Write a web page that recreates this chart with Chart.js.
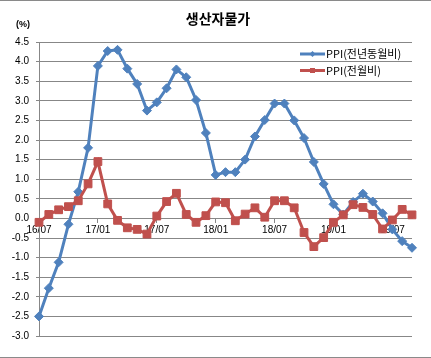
<!DOCTYPE html>
<html>
<head>
<meta charset="utf-8">
<script src="https://cdn.jsdelivr.net/npm/chart.js@4.4.1/dist/chart.umd.min.js"></script>
<style>
  html, body { margin: 0; padding: 0; background: #fff; }
  #wrap { position: relative; width: 431px; height: 358px; }
  #frame { position: absolute; left: 0; top: 0; width: 431px; height: 356px;
           border-top: 1px solid #8a8a8a; border-bottom: 1px solid #8a8a8a; pointer-events: none; }
</style>
</head>
<body>
<div id="wrap">
  <canvas id="ppiChart" width="431" height="358"></canvas>
  <div id="frame"></div>
</div>
<script>
// 생산자물가 (PPI) - monthly, 16/07 ~ 19/09

const titleText = '생산자물가';
const unitText = '(%)';

const months = [
    '16/07', '16/08', '16/09', '16/10', '16/11', '16/12',
    '17/01', '17/02', '17/03', '17/04', '17/05', '17/06',
    '17/07', '17/08', '17/09', '17/10', '17/11', '17/12',
    '18/01', '18/02', '18/03', '18/04', '18/05', '18/06',
    '18/07', '18/08', '18/09', '18/10', '18/11', '18/12',
    '19/01', '19/02', '19/03', '19/04', '19/05', '19/06',
    '19/07', '19/08', '19/09'
];

// 전년동월비 (year on year)
const ppiYoy = [
    -2.5, -1.78, -1.12, -0.15, 0.68, 1.8,
    3.89, 4.27, 4.3, 3.82, 3.43, 2.75,
    2.96, 3.32, 3.8, 3.6, 3.02, 2.18,
    1.11, 1.18, 1.18, 1.5, 2.09, 2.51,
    2.93, 2.93, 2.5, 2.05, 1.44, 0.88,
    0.36, 0.1, 0.42, 0.63, 0.43, 0.13,
    -0.28, -0.58, -0.75
];

// 전월비 (month on month)
const ppiMom = [
    -0.1, 0.1, 0.22, 0.3, 0.45, 0.88,
    1.45, 0.37, -0.05, -0.24, -0.28, -0.4,
    0.06, 0.43, 0.64, 0.1, -0.1, 0.07,
    0.42, 0.4, -0.06, 0.11, 0.27, 0.03,
    0.45, 0.45, 0.27, -0.36, -0.72, -0.49,
    -0.1, 0.09, 0.35, 0.28, 0.1, -0.27,
    -0.04, 0.23, 0.09
];

const seriesNames = ['PPI(전년동월비)', 'PPI(전월비)'];
const yTicks = { min: -3, max: 4.5, step: 0.5 };

const BLUE = '#4f81bd';
const RED = '#c0504d';
const GRID = '#878787';
const KR = '"Noto Sans CJK KR", "Noto Sans", sans-serif';
const NUM = '"Liberation Sans", Arial, sans-serif';

// title, unit label and the legend drawn over the canvas
const overlay = {
    id: 'overlay',
    afterDraw(chart) {
        const ctx = chart.ctx;
        ctx.save();
        ctx.fillStyle = '#000';
        ctx.textAlign = 'center';
        ctx.textBaseline = 'middle';
        ctx.font = 'bold 14px ' + KR;
        ctx.fillText(titleText, 218, 19);
        ctx.font = 'bold 9px ' + NUM;
        ctx.fillText(unitText, 23, 25);

        chart.data.datasets.forEach((ds, i) => {
            const y = 54 + i * 16.5;
            const x0 = 300, x1 = 325, xm = (x0 + x1) / 2;
            ctx.strokeStyle = ds.borderColor;
            ctx.lineWidth = 3;
            ctx.beginPath();
            ctx.moveTo(x0, y);
            ctx.lineTo(x1, y);
            ctx.stroke();
            ctx.fillStyle = ds.borderColor;
            ctx.beginPath();
            if (ds.pointStyle === 'rectRot') {
                ctx.moveTo(xm, y - 3);
                ctx.lineTo(xm + 3, y);
                ctx.lineTo(xm, y + 3);
                ctx.lineTo(xm - 3, y);
                ctx.closePath();
            } else {
                ctx.rect(xm - 2.5, y - 2.5, 5, 5);
            }
            ctx.fill();
            ctx.fillStyle = '#000';
            ctx.textAlign = 'left';
            ctx.font = '11px ' + KR;
            ctx.fillText(ds.label, 326, y);
        });
        ctx.restore();
    }
};

const ctx = document.getElementById('ppiChart').getContext('2d');
new Chart(ctx, {
    type: 'line',
    data: {
        labels: months,
        datasets: [{
            label: seriesNames[0],
            data: ppiYoy,
            borderColor: BLUE,
            backgroundColor: BLUE,
            borderWidth: 3,
            pointStyle: 'rectRot',
            pointRadius: 4.5,
            pointBorderWidth: 1,
            tension: 0,
            order: 2
        }, {
            label: seriesNames[1],
            data: ppiMom,
            borderColor: RED,
            backgroundColor: RED,
            borderWidth: 3,
            pointStyle: 'rect',
            pointRadius: 5.5,
            pointBorderWidth: 1,
            tension: 0,
            order: 1
        }]
    },
    options: {
        responsive: false,
        animation: false,
        layout: { padding: { left: 0, right: 19, top: 42, bottom: 22 } },
        plugins: {
            legend: { display: false },
            title: { display: false },
            tooltip: { enabled: false }
        },
        scales: {
            x: {
                position: { y: 0 },
                offset: false,
                grid: {
                    drawOnChartArea: false,
                    tickLength: 4,
                    color: c => (c.index % 6 === 0 ? GRID : 'rgba(0,0,0,0)')
                },
                border: { color: GRID, width: 1 },
                ticks: {
                    autoSkip: false,
                    maxRotation: 0,
                    padding: 2,
                    color: '#000',
                    font: { size: 10, family: NUM },
                    callback: (v, i) => (i % 6 === 0 ? months[i] : '')
                }
            },
            y: {
                min: yTicks.min,
                max: yTicks.max,
                grid: { color: GRID, tickLength: 3 },
                border: { color: GRID, width: 1 },
                ticks: {
                    stepSize: yTicks.step,
                    padding: 7,
                    color: '#000',
                    font: { size: 10, family: NUM },
                    callback: v => Number(v).toFixed(1)
                },
                afterFit: s => { s.width = 39; }
            }
        }
    },
    plugins: [overlay]
});
</script>
</body>
</html>
